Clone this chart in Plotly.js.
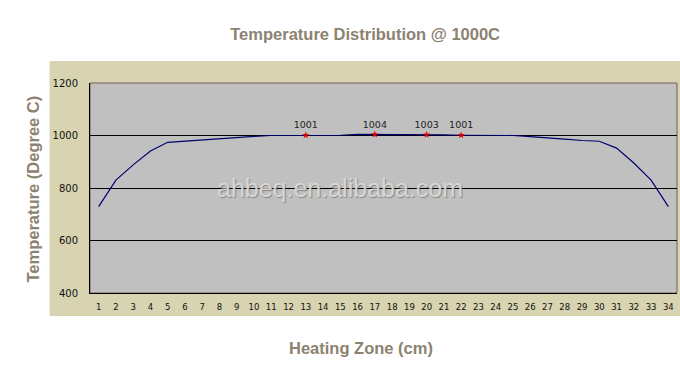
<!DOCTYPE html>
<html>
<head>
<meta charset="utf-8">
<script src="https://cdn.plot.ly/plotly-3.0.1.min.js"></script>
<style>html,body{margin:0;padding:0;background:#fff;}#chart{width:680px;height:378px;}</style>
</head>
<body>
<div id="chart"></div>
<script>
// Data
const zones = [1,2,3,4,5,6,7,8,9,10,11,12,13,14,15,16,17,18,19,20,21,22,23,24,25,26,27,28,29,30,31,32,33,34];
const temps = [729,830,888,941,974,979,984,989,993,997,1000,1000,1001,1001,1001,1004,1004,1004,1004,1003,1002,1001,1000,1000,1000,996,990,986,981,978,952,895,830,729];
const markZones = [13,17,20,22];
const markTemps = [1001,1004,1003,1001];
const markLabels = ['1001','1004','1003','1001'];
const yTicks = [400,600,800,1000,1200];

const titleColor = '#8C8270';
const titleFont = {family:'Liberation Sans, Arial, sans-serif', size:16.5, color:titleColor, weight:'bold'};

const traces = [
  {x: zones, y: temps, mode:'lines', line:{color:'#000070', width:1.2}, hoverinfo:'skip', showlegend:false},
  {x: markZones, y: markTemps, mode:'markers+text', text: markLabels, textposition:'top center',
   textfont:{family:'DejaVu Sans, sans-serif', size:9.5, color:'#222'},
   marker:{symbol:'star', size:5.5, color:'#E00000'}, showlegend:false}
];

const layout = {
  width:680, height:378,
  margin:{l:90.4, r:3.4, t:83, b:85},
  paper_bgcolor:'#ffffff',
  plot_bgcolor:'rgba(0,0,0,0)',
  title:{text:'<b>Temperature Distribution @ 1000C</b>', font:titleFont, xref:'container', x:0.537, xanchor:'center', yref:'container', y:1-34/378, yanchor:'middle'},
  xaxis:{range:[0.5,34.5], tickvals:zones, ticktext:zones.map(String), showgrid:false, zeroline:false,
    showline:true, linecolor:'#000', linewidth:1, ticks:'', ticklabelstandoff:6,
    tickfont:{family:'DejaVu Sans, sans-serif', size:8.5, color:'#111'}},
  yaxis:{range:[400,1200], tickvals:yTicks, showgrid:true, gridcolor:'#000', gridwidth:1, zeroline:false,
    showline:true, linecolor:'#000', linewidth:1, ticks:'', ticklabelstandoff:9,
    tickfont:{family:'DejaVu Sans, sans-serif', size:10, color:'#111'}},
  shapes:[
    {type:'rect', xref:'paper', yref:'paper', x0:(50-90.4)/586.2, x1:(680-90.4)/586.2, y0:(293-316)/210, y1:(293-61)/210,
     fillcolor:'#D8D3B1', line:{width:0}, layer:'below'},
    {type:'rect', xref:'paper', yref:'paper', x0:0, x1:1, y0:0, y1:1,
     fillcolor:'#C0C0C0', line:{color:'#7A5A50', width:1}, layer:'below'}
  ],
  annotations:[
    {text:'<b>Heating Zone (cm)</b>', xref:'paper', yref:'paper', x:(361-90.4)/586.2, y:(293-348)/210, xanchor:'center', yanchor:'middle', showarrow:false, font:titleFont},
    {text:'<b>Temperature (Degree C)</b>', xref:'paper', yref:'paper', x:(33-90.4)/586.2, y:(293-189)/210, xanchor:'center', yanchor:'middle', textangle:-90, showarrow:false, font:titleFont},
    {text:'ahbeq.en.alibaba.com', xref:'paper', yref:'paper', x:(340-90.4)/586.2, y:(293-188)/210, xanchor:'center', yanchor:'middle', showarrow:false,
     font:{family:'Liberation Sans, Arial, sans-serif', size:25, color:'rgba(222,222,222,0.9)', shadow:'1px 1px 1px rgba(90,90,90,0.6)'}}
  ]
};

Plotly.newPlot('chart', traces, layout, {displayModeBar:false, staticPlot:true});
</script>
</body>
</html>
